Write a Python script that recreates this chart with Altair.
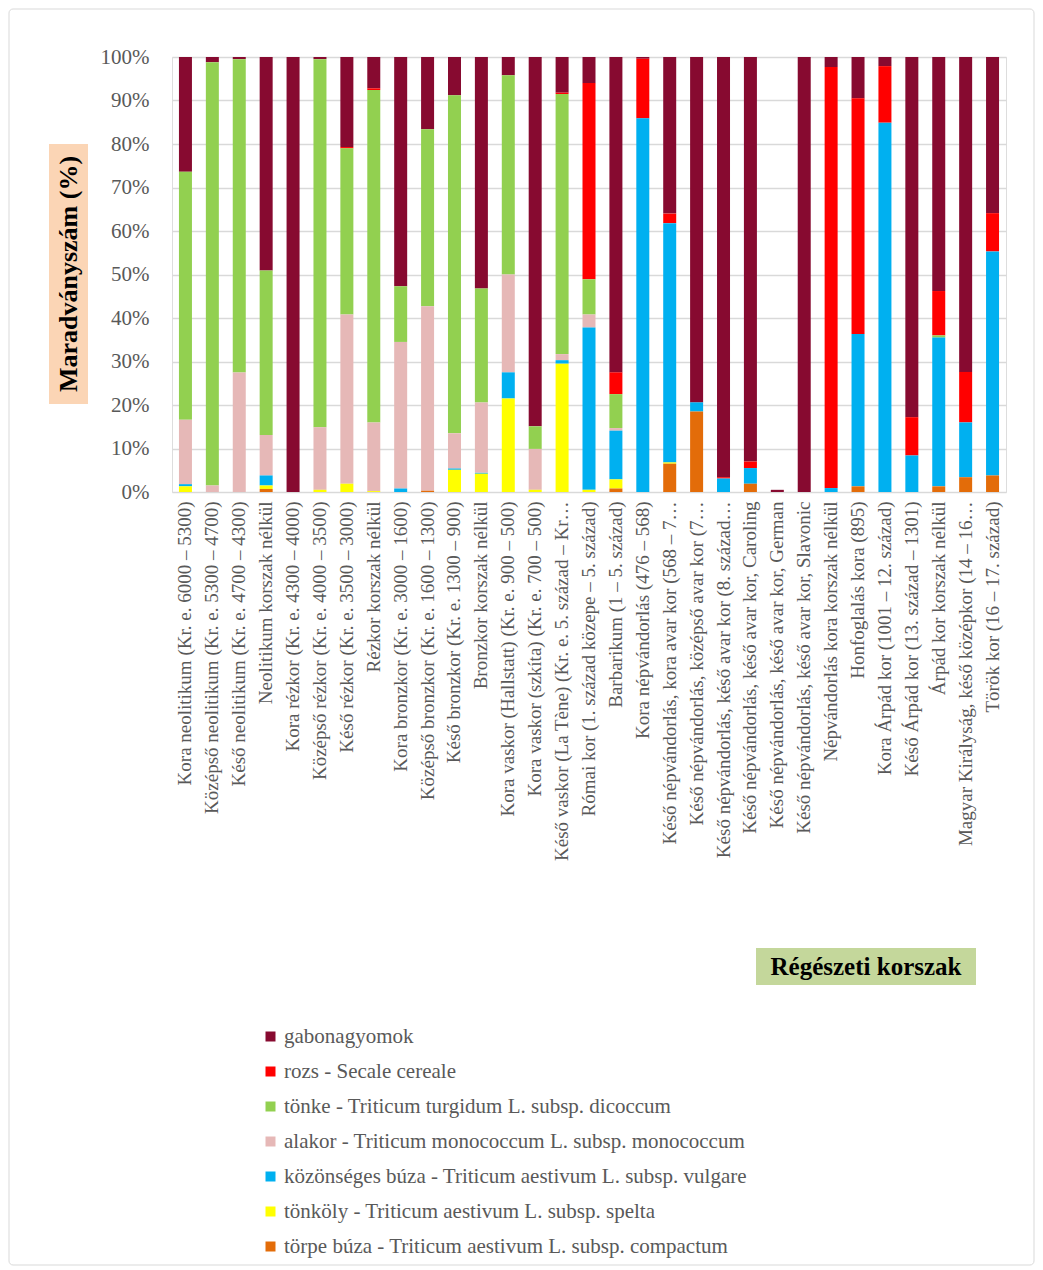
import altair as alt
import pandas as pd

categories = [
    "Kora neolitikum (Kr. e. 6000 – 5300)",
    "Középső neolitikum (Kr. e. 5300 – 4700)",
    "Késő neolitikum (Kr. e. 4700 – 4300)",
    "Neolitikum korszak nélkül",
    "Kora rézkor (Kr. e. 4300 – 4000)",
    "Középső rézkor (Kr. e. 4000 – 3500)",
    "Késő rézkor (Kr. e. 3500 – 3000)",
    "Rézkor korszak nélkül",
    "Kora bronzkor (Kr. e. 3000 – 1600)",
    "Középső bronzkor (Kr. e. 1600 – 1300)",
    "Késő bronzkor (Kr. e. 1300 – 900)",
    "Bronzkor korszak nélkül",
    "Kora vaskor (Hallstatt) (Kr. e. 900 – 500)",
    "Kora vaskor (szkíta) (Kr. e. 700 – 500)",
    "Késő vaskor (La Tène) (Kr. e. 5. század – Kr…",
    "Római kor (1. század közepe – 5. század)",
    "Barbarikum (1 – 5. század)",
    "Kora népvándorlás (476 – 568)",
    "Késő népvándorlás, kora avar kor (568 – 7…",
    "Késő népvándorlás, középső avar kor (7…",
    "Késő népvándorlás, késő avar kor (8. század…",
    "Késő népvándorlás, késő avar kor, Caroling",
    "Késő népvándorlás, késő avar kor, German",
    "Késő népvándorlás, késő avar kor, Slavonic",
    "Népvándorlás kora korszak nélkül",
    "Honfoglalás kora (895)",
    "Kora Árpád kor (1001 – 12. század)",
    "Késő Árpád kor (13. század – 1301)",
    "Árpád kor korszak nélkül",
    "Magyar Királyság, késő középkor (14 – 16…",
    "Török kor (16 – 17. század)",
]

# percentages per series (bottom of stack -> top of stack)
torpe = [0, 0, 0, 0.7, 0, 0, 0, 0, 0, 0.3, 0, 0, 0, 0, 0, 0, 0.8, 0, 6.5, 18.5, 0, 1.9, 0, 0, 0, 1.3, 0, 0, 1.3, 3.4, 3.8]
tonkoly = [1.3, 0, 0, 0.8, 0, 0.5, 1.9, 0.2, 0, 0, 5.1, 4.2, 21.5, 0.5, 29.5, 0.5, 2.1, 0, 0.3, 0, 0, 0, 0, 0, 0, 0, 0, 0, 0, 0, 0]
kozonseges = [0.5, 0, 0, 2.3, 0, 0, 0, 0, 0.8, 0, 0.3, 0.2, 6.0, 0, 0.8, 37.3, 11.2, 85.9, 55.0, 2.1, 3.1, 3.6, 0, 0, 0.9, 35.0, 84.9, 8.4, 34.2, 12.6, 51.5]
alakor = [14.8, 1.5, 27.5, 9.3, 0, 14.4, 38.9, 15.8, 33.7, 42.4, 8.1, 16.2, 22.5, 9.4, 1.4, 3.0, 0.6, 0, 0, 0, 0, 0, 0, 0, 0, 0, 0, 0, 0, 0, 0]
tonke = [57.0, 97.3, 72.0, 37.8, 0, 84.6, 38.2, 76.4, 12.8, 40.7, 77.7, 26.2, 45.8, 5.2, 59.8, 8.1, 7.8, 0, 0, 0, 0, 0, 0, 0, 0, 0, 0, 0, 0.5, 0, 0]
rozs = [0, 0, 0, 0, 0, 0, 0.3, 0.4, 0, 0, 0, 0, 0, 0, 0.3, 45.1, 5.0, 13.7, 2.2, 0, 0.3, 1.5, 0, 0, 96.8, 54.2, 13.0, 8.8, 10.2, 11.6, 8.8]
gabona = [26.4, 1.2, 0.5, 49.1, 100, 0.5, 20.7, 7.2, 52.7, 16.6, 8.8, 53.2, 4.2, 84.9, 8.2, 6.0, 72.5, 0.4, 36.0, 79.4, 96.6, 93.0, 0.5, 100, 2.3, 9.5, 2.1, 82.8, 53.8, 72.4, 35.9]

series_names = [
    "gabonagyomok",
    "rozs - Secale cereale",
    "tönke - Triticum turgidum L. subsp. dicoccum",
    "alakor - Triticum monococcum L. subsp. monococcum",
    "közönséges búza - Triticum aestivum L. subsp. vulgare",
    "tönköly - Triticum aestivum L. subsp. spelta",
    "törpe búza - Triticum aestivum L. subsp. compactum",
]
series_colors = ["#870A30", "#FF0000", "#92D050", "#E6B8B7", "#00B0F0", "#FFFF00", "#E36C09"]
series_values = [gabona, rozs, tonke, alakor, kozonseges, tonkoly, torpe]

rows = []
for s_idx, (name, vals) in enumerate(zip(series_names, series_values)):
    for cat, v in zip(categories, vals):
        rows.append({"korszak": cat, "faj": name, "ertek": v, "rend": 6 - s_idx})
df = pd.DataFrame(rows)

FONT = "Liberation Serif"
GREY = "#595959"

bars = alt.Chart(df).mark_bar(size=13).encode(
    x=alt.X(
        "korszak:N",
        sort=categories,
        scale=alt.Scale(paddingInner=0.5, paddingOuter=0.25),
        axis=alt.Axis(
            title=None, labelAngle=-90, labelFontSize=19, labelColor=GREY,
            labelFont=FONT, labelPadding=9, labelLimit=430, domain=False, ticks=False,
        ),
    ),
    y=alt.Y(
        "ertek:Q",
        stack="zero",
        scale=alt.Scale(domain=[0, 100], nice=False),
        axis=alt.Axis(
            title=None, values=list(range(0, 101, 10)), labelExpr="datum.value + '%'",
            labelFontSize=21, labelColor=GREY, labelFont=FONT, labelPadding=23,
            domain=False, ticks=False, gridColor="#D9D9D9", gridWidth=1.5,
        ),
    ),
    color=alt.Color(
        "faj:N",
        scale=alt.Scale(domain=series_names, range=series_colors),
        legend=alt.Legend(
            title=None, orient="none", legendX=88, legendY=969,
            symbolType="square", symbolSize=100, symbolStrokeWidth=0,
            labelFontSize=21, labelColor=GREY, labelFont=FONT,
            rowPadding=13, labelLimit=700, labelOffset=3,
        ),
    ),
    order=alt.Order("rend:Q", sort="ascending"),
)

one = pd.DataFrame({"t": ["Maradványszám  (%)"]})
one_x = pd.DataFrame({"t": ["Régészeti korszak"]})

border = alt.Chart(one).mark_rect(
    fill="transparent", stroke="#D9D9D9", strokeWidth=1, cornerRadius=4
).encode(x=alt.value(-163), x2=alt.value(862), y=alt.value(-48), y2=alt.value(1208))

ytitle_bg = alt.Chart(one).mark_rect(color="#FBD5B5").encode(
    x=alt.value(-123), x2=alt.value(-84), y=alt.value(87), y2=alt.value(347)
)
ytitle = alt.Chart(one).mark_text(
    angle=270, fontSize=26, fontWeight="bold", font=FONT, color="black",
    align="center", baseline="middle",
).encode(x=alt.value(-103.5), y=alt.value(217), text="t:N")

xtitle_bg = alt.Chart(one_x).mark_rect(color="#C4D79B").encode(
    x=alt.value(584), x2=alt.value(804), y=alt.value(891), y2=alt.value(928)
)
xtitle = alt.Chart(one_x).mark_text(
    fontSize=25, fontWeight="bold", font=FONT, color="black",
    align="center", baseline="middle",
).encode(x=alt.value(694), y=alt.value(910), text="t:N")

chart = alt.layer(border, bars, ytitle_bg, ytitle, xtitle_bg, xtitle).properties(
    width=834, height=435, padding=0
).configure_view(stroke=None).configure(font=FONT)

chart.save("out.html", embed_options={"renderer": "svg", "actions": False})
